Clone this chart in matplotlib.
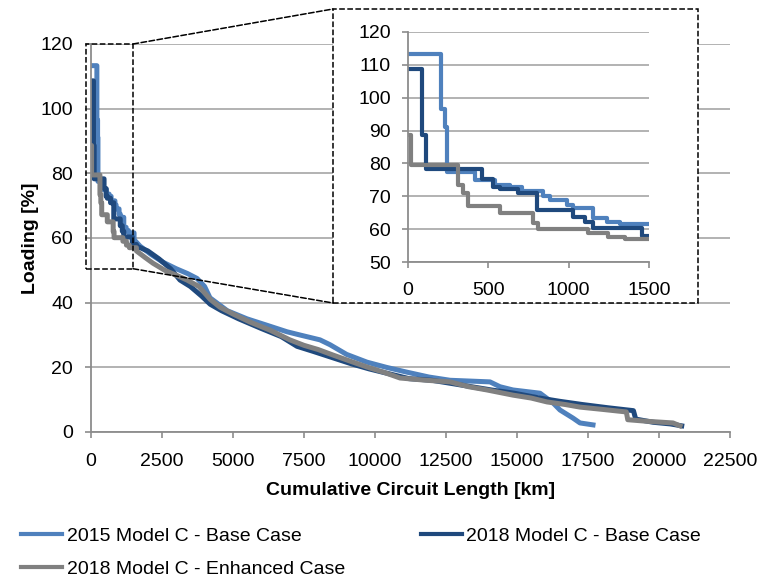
#
# loading_duration.py
#

import matplotlib
matplotlib.use('Agg')
import matplotlib.pyplot as plt
from matplotlib.patches import Rectangle, ConnectionPatch

plt.rcParams['font.family'] = ['Liberation Sans', 'DejaVu Sans']

'''
Loading duration curves read off the picture (cumulative km, loading %).
'''

labels = ['2015 Model C - Base Case',
          '2018 Model C - Base Case',
          '2018 Model C - Enhanced Case']

km_2015 = [0, 207, 232, 245, 418, 543, 636, 708, 843, 885, 988, 1030, 1154,
           1237, 1320, 1516, 1725, 2100, 2535, 3000, 3400, 3732, 4000, 4190,
           4800, 5493, 6200, 6901, 7359, 8063, 8415, 9000, 9718, 10400, 11127,
           11900, 12641, 14049, 14401, 14859, 15810, 16268, 16514, 16972,
           17218, 17676]
load_2015 = [113.3, 96.5, 91, 77.5, 75, 73.6, 72.9, 71.5, 70.2, 69, 67.4,
             66.4, 63.3, 62.3, 61.6, 59.5, 57.5, 55, 52.5, 50.5, 49, 47.5, 45,
             41.5, 37.5, 35, 33, 31, 30, 28.5, 27, 24, 21.6, 20, 18.5, 17, 16,
             15.5, 14, 13, 12, 9, 6.8, 4.3, 2.8, 2.2]

km_2018 = [0, 87, 112, 460, 532, 574, 688, 802, 1030, 1102, 1154, 1454, 1600,
           2000, 2400, 2800, 3134, 3500, 3900, 4200, 4600, 5200, 6000, 6700,
           7254, 7800, 8500, 9200, 9800, 10500, 11200, 12000, 12700, 13400,
           14100, 14900, 15800, 16500, 17300, 18200, 19100, 19180, 19800,
           20400, 20800]
load_2018 = [108.6, 88.6, 78.3, 75.3, 72.9, 72.3, 70.9, 65.9, 63.8, 62.1,
             60.3, 58, 57.5, 56, 53.5, 50.5, 47, 45, 42, 39.5, 37.5, 35, 32,
             29.5, 26.5, 25, 23, 21, 19.5, 18, 16.5, 16, 15, 14, 13, 12, 10.5,
             9.5, 8.5, 7.5, 6.6, 4, 3, 2.5, 1.9]

km_enh = [0, 21, 315, 346, 377, 574, 781, 812, 1123, 1247, 1351, 1600, 1900,
          2183, 2600, 3000, 3380, 3800, 4200, 4542, 5000, 5600, 6303, 7000,
          7500, 8000, 8521, 9100, 9718, 10300, 10880, 11800, 12641, 13300,
          13944, 14859, 15500, 16056, 16700, 17218, 18000, 18850, 18900,
          19600, 20493, 20739]
load_enh = [88.6, 79.5, 73.4, 70.9, 67.2, 65, 62, 60.1, 59, 57.8, 57, 56, 54,
            52.2, 50, 48.5, 47, 45, 41, 38.6, 36.5, 34, 31.5, 28.5, 26.8,
            25.5, 23.8, 22, 20.1, 18.5, 16.7, 16, 15.5, 14, 13, 11.4, 10.5,
            9.3, 8.5, 7.7, 7, 6.2, 3.8, 3.3, 2.8, 1.9]

colors = ['#4F81BD', '#1F497D', '#808080']
series = [(km_2015, load_2015), (km_2018, load_2018), (km_enh, load_enh)]

grey = '#8C8C8C'


def stepped_head(x, y, until=1600):
    # stair steps where the inset zooms in, a plain line further on
    xs, ys = [], []
    for i in range(len(x)):
        if i > 0 and x[i] <= until:
            xs.append(x[i])
            ys.append(y[i - 1])
        xs.append(x[i])
        ys.append(y[i])
    return xs, ys


def style_axes(ax):
    for side in ['top', 'right']:
        ax.spines[side].set_visible(False)
    for side in ['left', 'bottom']:
        ax.spines[side].set_color(grey)
        ax.spines[side].set_linewidth(1.3)
    ax.yaxis.grid(True, color='#A6A6A6', linewidth=1.2)
    ax.set_axisbelow(True)
    ax.tick_params(axis='both', colors=grey, labelcolor='black',
                   labelsize=14, length=4, width=1.2)


fig = plt.figure(figsize=(7.62, 5.81), dpi=100)

ax = fig.add_axes([91 / 762, 1 - 432 / 581, 639 / 762, 388 / 581])
style_axes(ax)

handles = []
for (x, y), c, lab in zip(series, colors, labels):
    xs, ys = stepped_head(x, y)
    h, = ax.plot(xs, ys, color=c, lw=3.6, label=lab)
    handles.append(h)

ax.set_xlim(0, 22500)
ax.set_ylim(0, 120)
ax.set_xticks(range(0, 22501, 2500))
ax.set_yticks(range(0, 121, 20))
ax.tick_params(axis='x', pad=11)
ax.tick_params(axis='y', pad=9)
ax.set_xlabel('Cumulative Circuit Length [km]', fontsize=14,
              fontweight='bold', labelpad=9)
ax.set_ylabel('Loading [%]', fontsize=14, fontweight='bold', labelpad=1)

'''
Zoom box on the main chart, the white panel and the inset.
'''

ax.add_patch(Rectangle((-170, 50.5), 1650, 69.5, fill=False, ls='--',
                       lw=1.1, ec='black', clip_on=False, zorder=5))

panel = Rectangle((333 / 762, 1 - 303 / 581), 365 / 762, 294 / 581,
                  transform=fig.transFigure, facecolor='white',
                  edgecolor='black', ls='--', lw=1.1, zorder=1)
fig.patches.append(panel)

for ya, yb in [(120, 9), (50.5, 303)]:
    con = ConnectionPatch(xyA=(1480, ya), coordsA=ax.transData,
                          xyB=(333 / 762, 1 - yb / 581),
                          coordsB=fig.transFigure, ls='--', lw=1.1,
                          color='black')
    fig.add_artist(con)

ins = fig.add_axes([407.7 / 762, 1 - 262.3 / 581, 241.3 / 762, 230.6 / 581])
ins.set_zorder(2)
style_axes(ins)
for (x, y), c in zip(series, colors):
    ins.plot(x, y, drawstyle='steps-post', color=c, lw=3)
ins.set_xlim(0, 1500)
ins.set_ylim(50, 120)
ins.set_xticks([0, 500, 1000, 1500])
ins.set_yticks(range(50, 121, 10))
ins.tick_params(axis='x', pad=10)
ins.tick_params(axis='y', pad=8)

'''
Legend below the chart, two entries on the first row.
'''

leg = fig.legend([handles[0], handles[2], handles[1]],
                 [labels[0], labels[2], labels[1]],
                 loc='upper left', bbox_to_anchor=(21 / 762, 1 - 527 / 581),
                 ncol=2, frameon=False, fontsize=14, handlelength=2.1,
                 handletextpad=0.25, columnspacing=3.9, labelspacing=0.8,
                 borderpad=0, borderaxespad=0)
for line in leg.get_lines():
    line.set_linewidth(3)

fig.savefig('out.png', dpi=100)
